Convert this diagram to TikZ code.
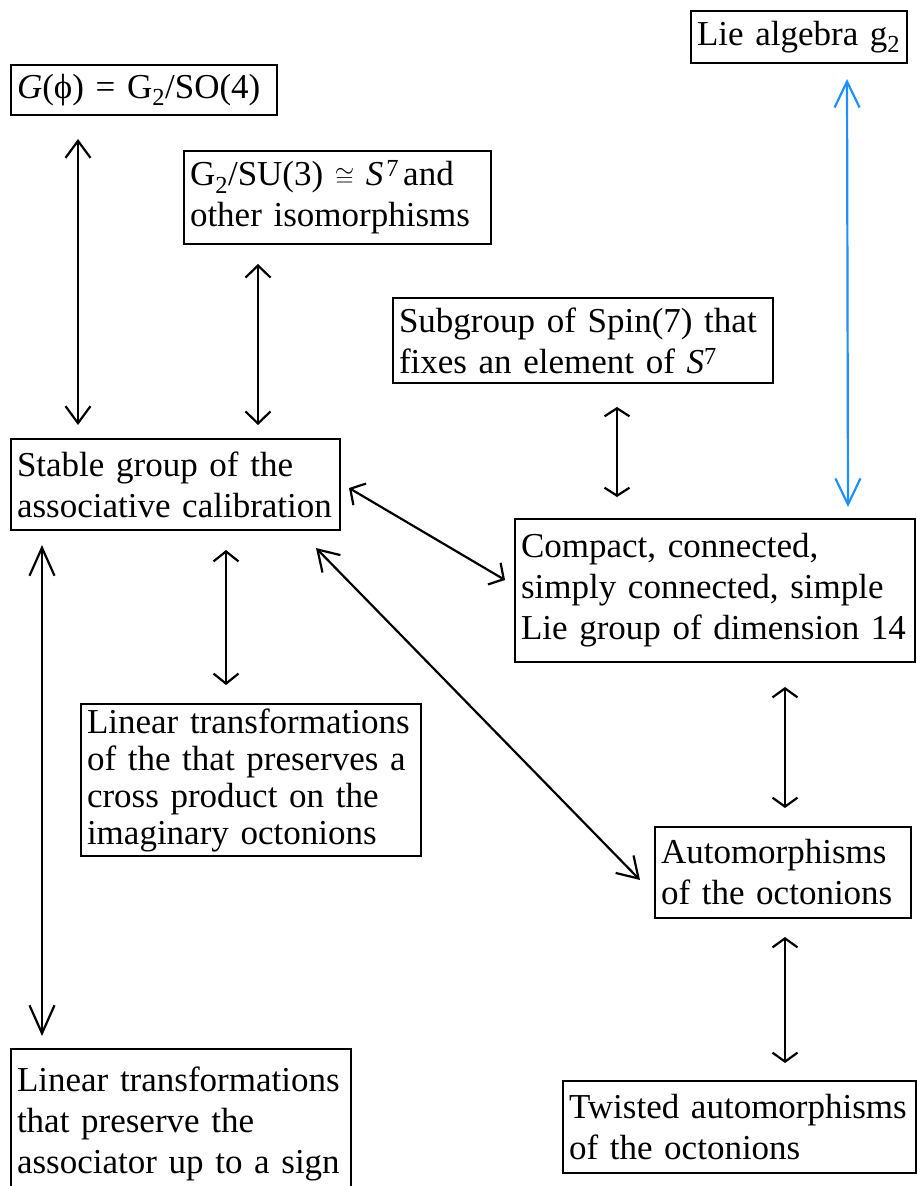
\documentclass[tikz,border=0pt]{standalone}
\usepackage{fontspec}
\setmainfont{Liberation Serif}
\usetikzlibrary{arrows.meta}
\definecolor{liablue}{RGB}{30,144,255}
\tikzset{
  box/.style={draw, line width=2pt, anchor=north west, align=left,
    inner xsep=6pt, inner ysep=2pt,
    font=\fontsize{35}{41}\selectfont},
  dbl/.style={{Straight Barb[length=#1,width=25pt]}-{Straight Barb[length=#1,width=25pt]}, line width=2.2pt},
  dbl/.default=14pt
}
\begin{document}
\begin{tikzpicture}[x=1pt,y=-1pt]
    \useasboundingbox (0,0) rectangle (916,1186);

    % Draw nodes
    \node[box, text width=254pt, minimum height=50pt] (gphi) at (10,64) {\textit{G}(ϕ) = G\textsubscript{2}/SO(4)};
    \node[box, text width=204pt, minimum height=52pt] (lie) at (690,10) {Lie algebra g\textsubscript{2}};
    \node[box, text width=295pt, minimum height=93pt] (iso) at (183,150) {G\textsubscript{2}/SU(3) $\cong$ \textit{S}\kern3pt\textsuperscript{7}\hspace{4pt}and\\other isomorphisms};
    \node[box, text width=368pt, minimum height=85pt] (spin) at (392,297) {Subgroup of Spin(7) that\\fixes an element of \textit{S\/}\textsuperscript{7}};
    \node[box, text width=317pt, minimum height=91pt] (stable) at (10,438) {Stable group of the\\associative calibration};
    \node[box, text width=388pt, minimum height=143pt] (compact) at (514,518) {Compact, connected,\\simply connected, simple\\Lie group of dimension 14};
    \node[box, text width=328pt, minimum height=152pt, font=\fontsize{35}{37}\selectfont] (lin) at (80,703) {Linear transformations\\of the that preserves a\\cross product on the\\imaginary octonions};
    \node[box, text width=244pt, minimum height=91pt] (auto) at (654,826) {Automorphisms\\of the octonions};
    \node[box, text width=328pt, minimum height=150pt] (assoc) at (10,1048) {Linear transformations\\that preserve the\\associator up to a sign};
    \node[box, text width=341pt, minimum height=92pt] (twist) at (562,1080) {Twisted automorphisms\\of the octonions};

    % Draw double-headed edges
    \draw[dbl=17pt] ([xshift=68pt,yshift=-23pt]gphi.south west) -- ([xshift=68pt,yshift=13pt]stable.north west);
    \draw[dbl=12pt] ([xshift=75pt,yshift=-19pt]iso.south west) -- ([xshift=248pt,yshift=13pt]stable.north west);
    \draw[dbl=8pt] ([xshift=225pt,yshift=-23pt]spin.south west) -- ([xshift=103pt,yshift=21pt]compact.north west);
    \draw[dbl=26pt, liablue] ([xshift=157pt,yshift=-15pt]lie.south west) -- ([xshift=334pt,yshift=11pt]compact.north west);
    \draw[dbl=11pt] ([xshift=8pt,yshift=-50pt]stable.north east) -- ([xshift=-9pt,yshift=-62pt]compact.north west);
    \draw[dbl=10pt] ([xshift=216pt,yshift=-19pt]stable.south west) -- ([xshift=146pt,yshift=18pt]lin.north west);
    \draw[dbl=20pt] ([xshift=306pt,yshift=-17pt]stable.south west) -- ([xshift=-14pt,yshift=-54pt]auto.north west);
    \draw[dbl=28pt] ([xshift=32pt,yshift=-14pt]stable.south west) -- ([xshift=32pt,yshift=12pt]assoc.north west);
    \draw[dbl=9pt] ([xshift=271pt,yshift=-24pt]compact.south west) -- ([xshift=131pt,yshift=18pt]auto.north west);
    \draw[dbl=9pt] ([xshift=131pt,yshift=-18pt]auto.south west) -- ([xshift=223pt,yshift=17pt]twist.north west);
\end{tikzpicture}
\end{document}
